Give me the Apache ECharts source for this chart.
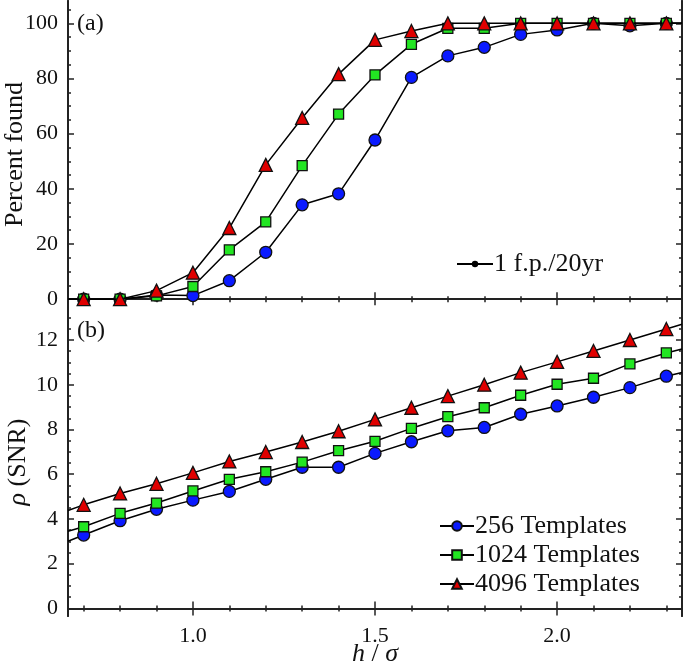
<!DOCTYPE html>
<html><head><meta charset="utf-8">
<script src="https://cdn.jsdelivr.net/npm/echarts@6/dist/echarts.min.js"></script>
<style>html,body{margin:0;padding:0;background:#fff}#c{width:685px;height:671px}</style>
</head><body><div id="c"></div>
<script>
// ---- data ----
var hSigma = [0.7,0.8,0.9,1.0,1.1,1.2,1.3,1.4,1.5,1.6,1.7,1.8,1.9,2.0,2.1,2.2,2.3];
var xEdges = [0.657, 2.343];
var found256  = [0,0,1.5,1.3,6.7,17,34.2,38.2,57.7,80.4,88.2,91.3,96,97.6,100,99.1,100];
var found1024 = [0,0,1.2,4.6,17.9,28,48.4,67.1,81.3,92.4,98.2,98.2,100,100,100,100,100];
var found4096 = [0,0,3.1,9.6,25.8,48.7,65.7,81.6,94,97.2,100,100,100,100,100,100,100];
var foundEdges = [[0,100],[0,100],[0,100]];
var snr256  = [3.28,3.92,4.43,4.84,5.23,5.77,6.31,6.31,6.93,7.45,7.94,8.09,8.68,9.05,9.44,9.87,10.38];
var snr1024 = [3.65,4.25,4.71,5.25,5.77,6.11,6.54,7.05,7.47,8.05,8.57,8.97,9.53,10.02,10.29,10.93,11.42];
var snr4096 = [4.63,5.14,5.57,6.06,6.57,6.99,7.44,7.92,8.45,8.97,9.49,10.0,10.54,11.02,11.51,12.0,12.49];
var snrEdges = [[3.0,10.55],[3.45,11.6],[4.38,12.7]];
var seriesNames = ['256 Templates','1024 Templates','4096 Templates'];
var fpLabel = '1 f.p./20yr';
var xMajor = [1.0,1.5,2.0];
var xMinor = [0.7,0.8,0.9,1.0,1.1,1.2,1.3,1.4,1.5,1.6,1.7,1.8,1.9,2.0,2.1,2.2,2.3];
var yTopMajor = [0,20,40,60,80,100];
var yTopMinor = [0,5,10,15,20,25,30,35,40,45,50,55,60,65,70,75,80,85,90,95,100,105];
var yBotMajor = [0,2,4,6,8,10,12];
var yBotMinor = [0,0.5,1,1.5,2,2.5,3,3.5,4,4.5,5,5.5,6,6.5,7,7.5,8,8.5,9,9.5,10,10.5,11,11.5,12,12.5,13];

// ---- styling ----
var FONT = 'Liberation Serif';
var AX = '#222';
var colors = ['#0a1aff','#22e622','#e00000'];
var symbols = ['circle','rect','triangle'];
var sizes = [12,10,13];

var xAxes = [], yAxes = [];
function xax(grid, pos, ticks, len, labels, name) {
  var a = {type:'value', gridIndex:grid, position:pos, min:xEdges[0], max:xEdges[1],
    axisLine:{show:true, lineStyle:{color:AX, width:2}},
    axisTick:{show:true, inside:true, length:len, customValues:ticks, lineStyle:{color:AX,width:1.5}},
    axisLabel:{show:!!labels, customValues:xMajor, formatter:function(v){return v.toFixed(1);}, margin:9,
      fontFamily:FONT, fontSize:22, color:'#111'},
    splitLine:{show:false}};
  if (name) { a.name = name.text; a.nameLocation='middle'; a.nameGap = name.gap; a.nameMoveOverlap = false;
    a.nameTextStyle = name.style; }
  xAxes.push(a);
}
function yax(grid, pos, min, max, ticks, len, labels, name) {
  var a = {type:'value', gridIndex:grid, position:pos, min:min, max:max,
    axisLine:{show:true, lineStyle:{color:AX, width:2}},
    axisTick:{show:true, inside:true, length:len, customValues:ticks, lineStyle:{color:AX,width:1.5}},
    axisLabel:{show:!!labels, customValues:labels||[], margin:10, fontFamily:FONT, fontSize:22, color:'#111'},
    splitLine:{show:false}};
  if (name) { a.name = name.text; a.nameLocation='middle'; a.nameGap=name.gap; a.nameRotate=90;
    a.nameTextStyle = name.style; }
  yAxes.push(a);
}
// grid 0 (top)
xax(0,'bottom',xMinor,3); xax(0,'bottom',xMajor,7); xax(0,'top',xMinor,3); xax(0,'top',xMajor,6);
yax(0,'left',-3.2,108.1,yTopMinor,3,null,{text:'Percent found',gap:40,style:{fontFamily:FONT,fontSize:26,color:'#111'}});
yax(0,'left',-3.2,108.1,yTopMajor,6,yTopMajor);
yax(0,'right',-3.2,108.1,yTopMinor,3); yax(0,'right',-3.2,108.1,yTopMajor,6);
// grid 1 (bottom)
xax(1,'bottom',xMinor,3); xax(1,'bottom',xMajor,7,true,{text:'{i|h} / {i|σ}',gap:25,
  style:{fontFamily:FONT,fontSize:26,color:'#111',rich:{i:{fontFamily:FONT,fontSize:26,fontStyle:'italic',color:'#111'}}}});
xax(1,'top',xMinor,3); xax(1,'top',xMajor,7);
yax(1,'left',-0.34,13.43,yBotMinor,3,null,{text:'{i|ρ} (SNR)',gap:37,
  style:{fontFamily:FONT,fontSize:26,color:'#111',rich:{i:{fontFamily:FONT,fontSize:26,fontStyle:'italic',color:'#111'}}}});
yax(1,'left',-0.34,13.43,yBotMajor,6,yBotMajor);
yax(1,'right',-0.34,13.43,yBotMinor,3); yax(1,'right',-0.34,13.43,yBotMajor,6);

function build(vals, edges) {
  var d = [{value:[xEdges[0], edges[0]], symbol:'none'}];
  for (var i=0;i<hSigma.length;i++) d.push([hSigma[i], vals[i]]);
  d.push({value:[xEdges[1], edges[1]], symbol:'none'});
  return d;
}
var topVals = [found256, found1024, found4096];
var botVals = [snr256, snr1024, snr4096];
var series = [];
for (var k=0;k<3;k++) {
  series.push({type:'line', name:seriesNames[k], xAxisIndex:1, yAxisIndex:1,
    data:build(topVals[k], foundEdges[k]), symbol:symbols[k], symbolSize:sizes[k], showAllSymbol:true,
    lineStyle:{color:'#000', width:1.5}, itemStyle:{color:colors[k], borderColor:'#111', borderWidth:1.3},
    emphasis:{disabled:true}, animation:false, z:2+k});
}
for (var k=0;k<3;k++) {
  series.push({type:'line', name:seriesNames[k], xAxisIndex:5, yAxisIndex:5,
    data:build(botVals[k], snrEdges[k]), symbol:symbols[k], symbolSize:sizes[k], showAllSymbol:true,
    lineStyle:{color:'#000', width:1.5}, itemStyle:{color:colors[k], borderColor:'#111', borderWidth:1.3},
    emphasis:{disabled:true}, animation:false, z:2+k});
}
series.push({type:'line', name:fpLabel, xAxisIndex:1, yAxisIndex:1, data:[], symbol:'circle', symbolSize:6,
  lineStyle:{color:'#000', width:1.5}, itemStyle:{color:'#000'}});

var chart = echarts.init(document.getElementById('c'));
chart.setOption({
  animation:false,
  backgroundColor:'#fff',
  grid:[{left:68, right:3, top:1, height:307, containLabel:false, outerBoundsMode:'none'},
        {left:68, right:3, top:308, height:308, containLabel:false, outerBoundsMode:'none'}],
  xAxis:xAxes, yAxis:yAxes, series:series,
  legend:[
    {data:[fpLabel], left:451, top:246, itemWidth:36, itemHeight:8, selectedMode:false,
     textStyle:{fontFamily:FONT, fontSize:26, color:'#111', padding:[0,0,0,-4]}},
    {data:seriesNames, left:434, top:508, orient:'vertical', itemGap:3, itemWidth:34, itemHeight:12, selectedMode:false,
     textStyle:{fontFamily:FONT, fontSize:26, color:'#111', padding:[0,0,0,-4]}}
  ],
  graphic:[
    {type:'text', left:77, top:12, style:{text:'(a)', font:'24px "Liberation Serif"', fill:'#111'}},
    {type:'text', left:77, top:319, style:{text:'(b)', font:'24px "Liberation Serif"', fill:'#111'}}
  ]
});
</script></body></html>
